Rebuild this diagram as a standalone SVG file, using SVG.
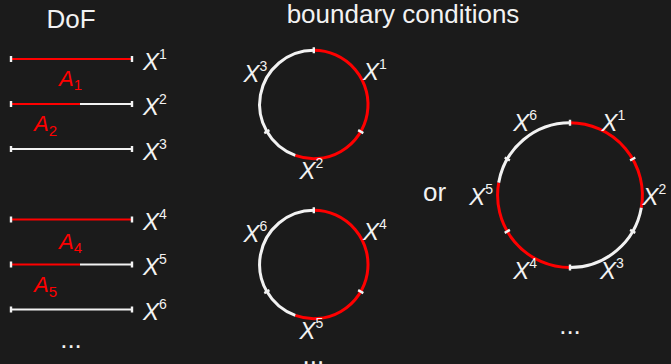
<svg xmlns="http://www.w3.org/2000/svg" width="671" height="364" viewBox="0 0 671 364">
<style>
.bg{fill:#1b1b1b}
.title{font-family:"Liberation Sans",Arial,sans-serif;font-size:26px;fill:#f2f2f2}
.x{font-family:"Liberation Sans",Arial,sans-serif;font-size:24px;font-style:italic;fill:#f2f2f2}
.sup{font-size:14px;font-style:normal}
.a{font-family:"Liberation Sans",Arial,sans-serif;font-size:22px;font-style:italic;fill:#ff0000}
.sub{font-size:15px;font-style:normal}
.dots{font-family:"Liberation Sans",Arial,sans-serif;font-size:26px;fill:#f2f2f2;text-anchor:middle}
.lr{stroke:#ff0000;stroke-width:2.2;fill:none}
.lw{stroke:#f2f2f2;stroke-width:2.2;fill:none}
.cr{stroke:#ff0000;stroke-width:3;fill:none}
.cw{stroke:#f2f2f2;stroke-width:3;fill:none}
.tk{stroke:#f2f2f2;stroke-width:2.4;fill:none}
</style>
<rect class="bg" x="0" y="0" width="671" height="364"/>

<text class="title" x="71" y="28" text-anchor="middle">DoF</text>
<text class="title" x="403" y="23" text-anchor="middle">boundary conditions</text>

<g id="dof1">
<path class="lr" d="M11 59H132"/>
<path class="tk" d="M11 56V62M132 56V62"/>
<text class="x" x="143" y="69.5">X<tspan class="sup" dy="-11">1</tspan></text>
<text class="a" x="59" y="85.5">A<tspan class="sub" dy="4.5">1</tspan></text>
</g>
<g id="dof2">
<path class="lr" d="M11 104H80"/>
<path class="lw" d="M80 104H132"/>
<path class="tk" d="M11 101V107M132 101V107"/>
<text class="x" x="143" y="114.5">X<tspan class="sup" dy="-11">2</tspan></text>
<text class="a" x="34" y="131">A<tspan class="sub" dy="4.5">2</tspan></text>
</g>
<g id="dof3">
<path class="lw" d="M11 149H132"/>
<path class="tk" d="M11 146V152M132 146V152"/>
<text class="x" x="143" y="159.5">X<tspan class="sup" dy="-11">3</tspan></text>
</g>
<g id="dof4">
<path class="lr" d="M11 219.5H132"/>
<path class="tk" d="M11 216.5V222.5M132 216.5V222.5"/>
<text class="x" x="143" y="230">X<tspan class="sup" dy="-11">4</tspan></text>
<text class="a" x="59" y="248.5">A<tspan class="sub" dy="4.5">4</tspan></text>
</g>
<g id="dof5">
<path class="lr" d="M11 264.5H80"/>
<path class="lw" d="M80 264.5H132"/>
<path class="tk" d="M11 261.5V267.5M132 261.5V267.5"/>
<text class="x" x="143" y="275">X<tspan class="sup" dy="-11">5</tspan></text>
<text class="a" x="34" y="292">A<tspan class="sub" dy="4.5">5</tspan></text>
</g>
<g id="dof6">
<path class="lw" d="M11 309.5H132"/>
<path class="tk" d="M11 306.5V312.5M132 306.5V312.5"/>
<text class="x" x="143" y="320">X<tspan class="sup" dy="-11">6</tspan></text>
</g>
<text class="dots" x="71" y="348">...</text>

<g id="circle1">
<path class="cr" d="M313.8 50.3A54.2 54.2 0 1 1 295.26 155.43"/>
<path class="cw" d="M295.26 155.43A54.2 54.2 0 0 1 313.8 50.3"/>
<path class="tk" d="M313.8 47.3V53.3M358.14 130.1L363.34 133.1M269.46 130.1L264.26 133.1"/>
<text class="x" x="363" y="80">X<tspan class="sup" dy="-11">1</tspan></text>
<text class="x" x="299.5" y="179">X<tspan class="sup" dy="-11">2</tspan></text>
<text class="x" x="243.5" y="81.5">X<tspan class="sup" dy="-11">3</tspan></text>
</g>

<g id="circle2">
<path class="cr" d="M313.8 210.3A54.2 54.2 0 1 1 295.26 315.43"/>
<path class="cw" d="M295.26 315.43A54.2 54.2 0 0 1 313.8 210.3"/>
<path class="tk" d="M313.8 207.3V213.3M358.14 290.1L363.34 293.1M269.46 290.1L264.26 293.1"/>
<text class="x" x="363" y="240">X<tspan class="sup" dy="-11">4</tspan></text>
<text class="x" x="299.5" y="339">X<tspan class="sup" dy="-11">5</tspan></text>
<text class="x" x="243.5" y="241.5">X<tspan class="sup" dy="-11">6</tspan></text>
</g>
<text class="dots" x="313.3" y="363.5">...</text>

<text class="title" x="423" y="201">or</text>

<g id="circle3">
<path class="cr" d="M570 122.8A72.4 72.4 0 0 1 641.3 207.77"/>
<path class="cw" d="M641.3 207.77A72.4 72.4 0 0 1 570 267.6"/>
<path class="cr" d="M570 267.6A72.4 72.4 0 0 1 498.7 182.63"/>
<path class="cw" d="M498.7 182.63A72.4 72.4 0 0 1 570 122.8"/>
<path class="tk" d="M570 119.8V125.8M630.1 160.5L635.3 157.5M630.1 229.9L635.3 232.9M570 264.6V270.6M509.9 229.9L504.7 232.9M509.9 160.5L504.7 157.5"/>
<text class="x" x="601.5" y="130.7">X<tspan class="sup" dy="-11">1</tspan></text>
<text class="x" x="642.5" y="205">X<tspan class="sup" dy="-11">2</tspan></text>
<text class="x" x="600" y="279">X<tspan class="sup" dy="-11">3</tspan></text>
<text class="x" x="513.3" y="279">X<tspan class="sup" dy="-11">4</tspan></text>
<text class="x" x="469.3" y="205">X<tspan class="sup" dy="-11">5</tspan></text>
<text class="x" x="513.3" y="130.7">X<tspan class="sup" dy="-11">6</tspan></text>
</g>
<text class="dots" x="570" y="333.5">...</text>
</svg>
